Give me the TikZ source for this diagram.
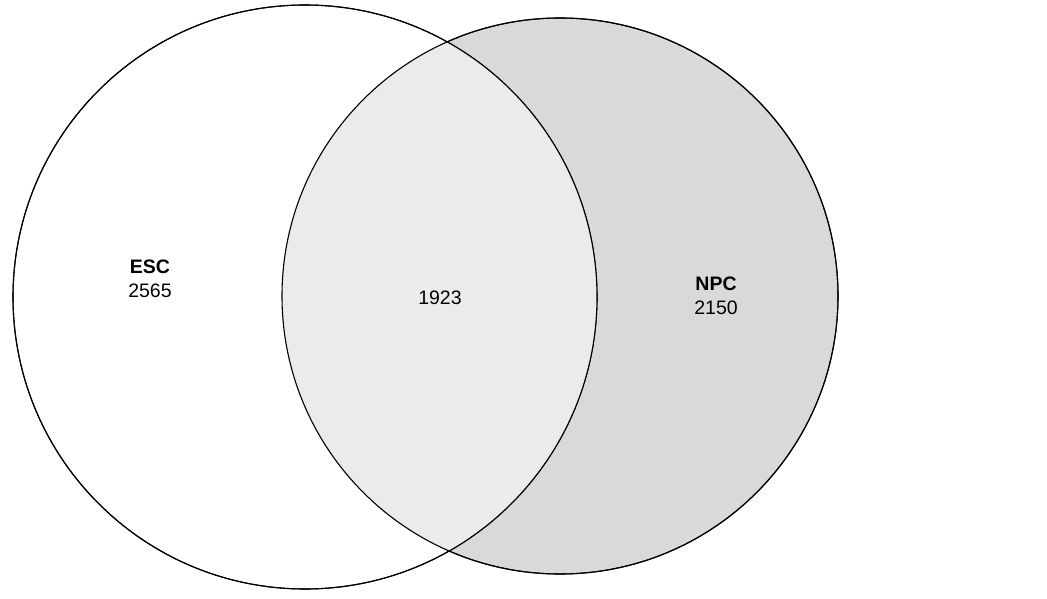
\documentclass[tikz,border=0pt]{standalone}
\usepackage{fontspec}
\setmainfont{Liberation Sans}
\usetikzlibrary{positioning}
\definecolor{onlynpc}{HTML}{D9D9D9}
\definecolor{both}{HTML}{EBEBEB}

\begin{document}
\begin{tikzpicture}[x=1pt,y=-1pt,
          set/.style={circle,draw,line width=1.1pt,inner sep=0pt},
          lbl/.style={align=center,font=\fontsize{19.5}{24.5}\selectfont}]
        \useasboundingbox (0,0) rectangle (1047,599);
        % the two sets
        \node[set,fill=onlynpc,minimum size=556pt] (npc) at (560,296) {};
        \node[set,fill=white,minimum size=584pt] (esc) at (305,297) {};
        \begin{scope}
          \clip (305,297) circle (292);
          \fill[both] (560,296) circle (278);
        \end{scope}
        \draw[line width=1.1pt] (560,296) circle (278);
        \draw[line width=1.1pt] (305,297) circle (292);
        % counts
        \node[lbl] (escn) at (150,279) {\textbf{ESC}\\2565};
        \node[lbl] (mid) at (440,298) {1923};
        \node[lbl] (npcn) at (716,296) {\textbf{NPC}\\2150};
      \end{tikzpicture}
\end{document}
